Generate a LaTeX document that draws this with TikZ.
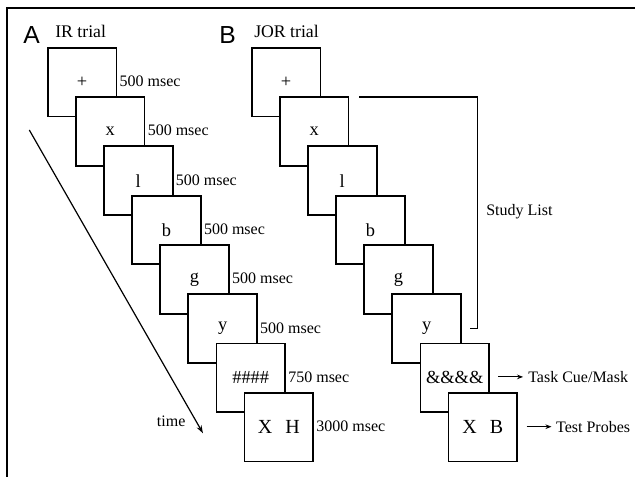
\documentclass[tikz,border=0pt]{standalone}
\usepackage{fontspec}
\setmainfont{Liberation Serif}
\newfontfamily\panelfont{Liberation Sans}
\usetikzlibrary{arrows.meta,calc}
\begin{document}
\begin{tikzpicture}[x=0.75pt,y=-0.75pt,
  frameline/.style={line width=1.5pt, line join=miter},
  slide/.style={draw, fill=white, line width=1.3pt, minimum width=51.5pt, minimum height=51.5pt,
    inner sep=0pt, outer sep=0pt, font=\fontsize{13.8}{16}\selectfont},
  probe/.style={slide, font=\fontsize{15}{18}\selectfont},
  dur/.style={anchor=base west, inner sep=0pt, font=\fontsize{12}{14}\selectfont},
  ttl/.style={anchor=base west, inner sep=0pt, font=\fontsize{13.3}{16}\selectfont},
  panel/.style={anchor=base west, inner sep=0pt, font=\panelfont\fontsize{18.5}{22}\selectfont},
  note/.style={anchor=west, inner sep=0pt, font=\fontsize{12}{14}\selectfont},
  timearrow/.style={line width=0.9pt, -{Stealth[length=6pt,width=4pt]}},
  ptr/.style={line width=0.8pt, -{Stealth[length=4.5pt,width=3.5pt]}},
  bracket/.style={line width=1.3pt}]
\useasboundingbox (0,0) rectangle (635,477);
% frame
\draw[frameline] (6.7,477) -- (6.7,7.8) -- (635,7.8);
% panel titles
\node[panel] (pA) at (23,43.3) {A};
\node[ttl] (tA) at (55,37.3) {IR trial};
\node[panel] (pB) at (219,43.3) {B};
\node[ttl] (tB) at (254,37.3) {JOR trial};
% panel A slides
\node[slide] (a1) at (82.1,82.1) {+};
\node[slide] (a2) at (110.2,131.4) {x};
\node[slide] (a3) at (138.3,180.7) {l};
\node[slide] (a4) at (166.4,230.0) {b};
\node[slide] (a5) at (194.5,279.3) {g};
\node[slide] (a6) at (222.6,328.6) {y};
\node[slide] (a7) at (250.7,377.9) {\#\#\#\#};
\node[probe] (a8) at (278.8,427.2) {X\hspace{9.9pt}H};
% durations
\node[dur] (d1) at ($(a1.east)+(3,4.5)$) {500 msec};
\node[dur] (d2) at ($(a2.east)+(3,4.5)$) {500 msec};
\node[dur] (d3) at ($(a3.east)+(3,4.5)$) {500 msec};
\node[dur] (d4) at ($(a4.east)+(3,4.5)$) {500 msec};
\node[dur] (d5) at ($(a5.east)+(3,4.5)$) {500 msec};
\node[dur] (d6) at ($(a6.east)+(3,4.5)$) {500 msec};
\node[dur] (d7) at ($(a7.east)+(3,4.5)$) {750 msec};
\node[dur] (d8) at ($(a8.east)+(3,4.5)$) {3000 msec};
% time arrow
\coordinate (t0) at (29.3,130);
\coordinate (t1) at (203,433.3);
\draw[timearrow] (t0) -- (t1);
\node[dur] (time) at (156.7,426.7) {time};
% panel B slides
\node[slide] (b1) at (286.1,82.1) {+};
\node[slide] (b2) at (314.2,131.4) {x};
\node[slide] (b3) at (342.3,180.7) {l};
\node[slide] (b4) at (370.4,230.0) {b};
\node[slide] (b5) at (398.5,279.3) {g};
\node[slide] (b6) at (426.6,328.6) {y};
\node[slide] (b7) at (454.7,377.9) {\&\&\&\&};
\node[probe] (b8) at (482.8,427.2) {X\hspace{9.9pt}B};
% study list bracket
\coordinate (s1) at ($(b2.north east)+(10.6,0)$);
\coordinate (s2) at ($(s1)+(118.4,0)$);
\coordinate (s3) at ($(b6.east)+(9.3,0)$);
\draw[bracket] (s1) -- (s2) |- (s3);
\node[dur] (study) at (486,216) {Study List};
% pointers
\coordinate (c1) at ($(b7.east)+(9,-1)$);
\node[note] (cue) at ($(c1)+(30,0)$) {Task Cue/Mask};
\draw[ptr] (c1) -- ([xshift=-3.75pt]cue.west);
\coordinate (c2) at ($(b8.east)+(9.4,-0.5)$);
\node[note] (probes) at ($(c2)+(29.3,0)$) {Test Probes};
\draw[ptr] (c2) -- ([xshift=-3.3pt]probes.west);
\end{tikzpicture}
\end{document}
